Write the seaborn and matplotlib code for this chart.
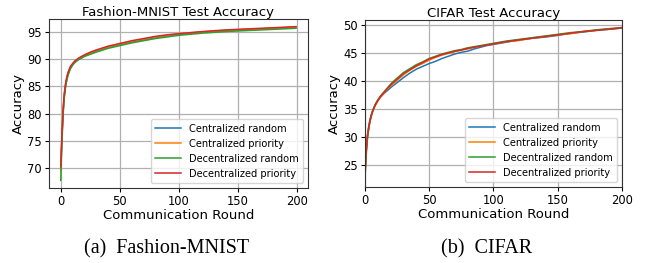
import matplotlib
matplotlib.use("Agg")
import matplotlib.pyplot as plt
import seaborn as sns

# Fashion-MNIST curves
rondas_fashion = [0, 1, 2, 3, 4, 5, 6, 8, 10, 12, 15, 20, 25, 30, 40, 50, 60, 70, 80, 90, 100, 120, 140, 160, 180, 199]
fashion_cen_random = [70.0, 75.5, 80.3, 83.2, 85.0, 86.2, 87.1, 88.3, 89.0, 89.5, 90.0, 90.6, 91.1, 91.5, 92.2, 92.7, 93.2, 93.6, 94.0, 94.3, 94.6, 95.0, 95.3, 95.5, 95.7, 95.9]
fashion_cen_priority = [69.5, 75.8, 80.6, 83.5, 85.2, 86.4, 87.3, 88.4, 89.1, 89.6, 90.1, 90.7, 91.2, 91.6, 92.3, 92.8, 93.3, 93.7, 94.1, 94.4, 94.7, 95.0, 95.3, 95.5, 95.7, 95.9]
fashion_dec_random = [67.7, 74.8, 79.8, 82.9, 84.8, 86.0, 86.9, 88.2, 88.9, 89.4, 89.9, 90.5, 90.9, 91.3, 92.0, 92.5, 93.0, 93.4, 93.8, 94.1, 94.4, 94.8, 95.1, 95.3, 95.5, 95.7]
fashion_dec_priority = [70.2, 76.0, 80.8, 83.7, 85.4, 86.6, 87.5, 88.6, 89.2, 89.7, 90.2, 90.8, 91.3, 91.7, 92.4, 92.9, 93.4, 93.8, 94.2, 94.5, 94.7, 95.1, 95.4, 95.6, 95.8, 96.0]

# CIFAR curves
rondas_cifar = [0, 1, 2, 3, 4, 5, 6, 8, 10, 12, 15, 18, 21, 25, 30, 35, 40, 45, 50, 55, 60, 65, 70, 75, 80, 85, 90, 95, 100, 110, 120, 130, 140, 150, 160, 170, 180, 190, 200]
cifar_cen_random = [23.5, 27.8, 30.4, 32.0, 33.2, 34.0, 34.7, 35.8, 36.6, 37.1, 37.8, 38.4, 39.0, 39.7, 40.6, 41.4, 42.1, 42.6, 43.1, 43.5, 44.0, 44.4, 44.8, 45.1, 45.3, 45.7, 46.0, 46.3, 46.5, 46.9, 47.3, 47.6, 47.8, 48.1, 48.5, 48.7, 49.0, 49.2, 49.4]
cifar_cen_priority = [23.0, 27.3, 30.0, 31.6, 32.8, 33.7, 34.5, 35.6, 36.4, 37.1, 37.9, 38.7, 39.3, 40.1, 41.1, 41.9, 42.6, 43.1, 43.7, 44.2, 44.6, 44.9, 45.2, 45.5, 45.7, 46.0, 46.2, 46.4, 46.6, 47.0, 47.2, 47.6, 47.9, 48.2, 48.4, 48.8, 49.0, 49.3, 49.5]
cifar_dec_random = [22.5, 26.8, 29.8, 31.6, 32.9, 33.9, 34.7, 35.8, 36.6, 37.3, 38.1, 38.9, 39.7, 40.5, 41.5, 42.2, 42.9, 43.4, 44.0, 44.4, 44.8, 45.1, 45.4, 45.6, 45.9, 46.1, 46.3, 46.5, 46.7, 47.1, 47.4, 47.7, 48.0, 48.3, 48.6, 48.8, 49.1, 49.3, 49.4]
cifar_dec_priority = [22.9, 27.5, 30.2, 31.8, 33.0, 33.9, 34.6, 35.7, 36.5, 37.2, 38.0, 38.8, 39.5, 40.3, 41.3, 42.0, 42.7, 43.3, 43.9, 44.3, 44.7, 45.0, 45.3, 45.5, 45.8, 46.0, 46.2, 46.4, 46.6, 47.0, 47.3, 47.6, 47.9, 48.2, 48.5, 48.8, 49.0, 49.2, 49.5]

etiquetas = ['Centralized random', 'Centralized priority', 'Decentralized random', 'Decentralized priority']
colores = ['#1f77b4', '#ff7f0e', '#2ca02c', '#d62728']

fig = plt.figure(figsize=(6.47, 2.63), dpi=100)
ax_f = fig.add_axes([0.0757, 0.285, 0.400, 0.643])
ax_c = fig.add_axes([0.564, 0.289, 0.397, 0.635])

series_f = [fashion_cen_random, fashion_cen_priority, fashion_dec_random, fashion_dec_priority]
series_c = [cifar_cen_random, cifar_cen_priority, cifar_dec_random, cifar_dec_priority]

for valores, etiqueta, color in zip(series_f, etiquetas, colores):
    sns.lineplot(x=rondas_fashion, y=valores, ax=ax_f, label=etiqueta, color=color, linewidth=1.1)
for valores, etiqueta, color in zip(series_c, etiquetas, colores):
    sns.lineplot(x=rondas_cifar, y=valores, ax=ax_c, label=etiqueta, color=color, linewidth=1.1)

ax_f.set_title('Fashion-MNIST Test Accuracy', fontsize=9.5, pad=1.5)
ax_c.set_title('CIFAR Test Accuracy', fontsize=9.5, pad=1.5)
ax_c.set_xlim(0, 200)
ax_f.set_xticks([0, 50, 100, 150, 200])
ax_f.set_yticks([70, 75, 80, 85, 90, 95])
ax_c.set_yticks([25, 30, 35, 40, 45, 50])

for ax in (ax_f, ax_c):
    ax.set_xlabel('Communication Round', fontsize=9.5, labelpad=1)
    ax.set_ylabel('Accuracy', fontsize=9.5, labelpad=2)
    ax.tick_params(labelsize=8.3, length=3, pad=2)
    ax.grid(True, color='#b0b0b0', linewidth=0.9)
    ax.set_axisbelow(True)
    for s in ax.spines.values():
        s.set_color('#333333')
    ax.legend(loc='lower right', fontsize=7.1, frameon=True, handlelength=2.6,
              borderpad=0.45, labelspacing=0.5)

fig.text(0.258, 0.053, '(a)  Fashion-MNIST', ha='center', va='center', fontsize=14.5, family='Liberation Serif')
fig.text(0.752, 0.053, '(b)  CIFAR', ha='center', va='center', fontsize=14.5, family='Liberation Serif')

fig.savefig('out.png', dpi=100)
